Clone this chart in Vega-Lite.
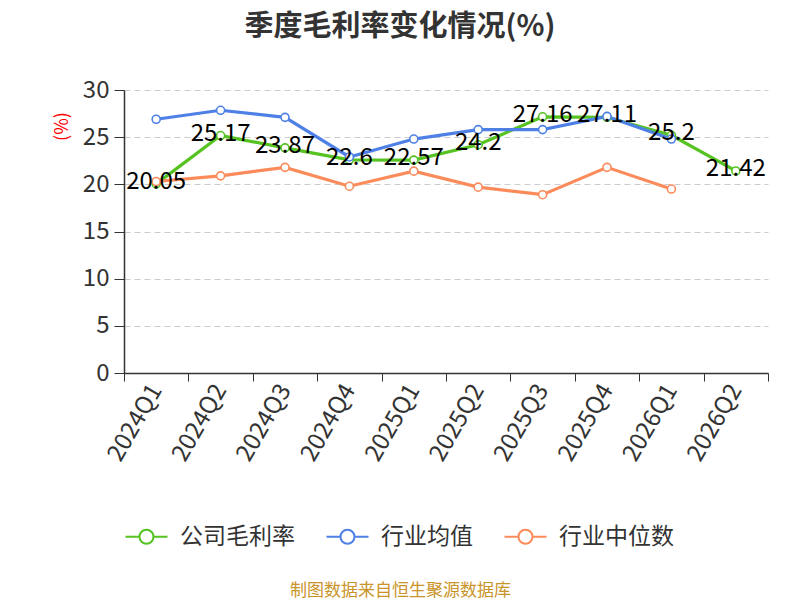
{
  "$schema": "https://vega.github.io/schema/vega-lite/v6.json",
  "autosize": "none",
  "width": 644,
  "height": 283,
  "padding": {"left": 124, "top": 90, "right": 32, "bottom": 227},
  "background": "white",
  "title": {
    "text": "季度毛利率变化情况(%)",
    "font": "Noto Sans CJK SC",
    "fontSize": 29,
    "fontWeight": "bold",
    "color": "#333333",
    "anchor": "middle",
    "dx": -46,
    "offset": 36
  },
  "config": {
    "view": {"stroke": null},
    "font": "Noto Sans CJK SC"
  },
  "data": {
    "values": [
      {"quarter": "2024Q1", "series": "公司毛利率", "value": 20.05},
      {"quarter": "2024Q2", "series": "公司毛利率", "value": 25.17},
      {"quarter": "2024Q3", "series": "公司毛利率", "value": 23.87},
      {"quarter": "2024Q4", "series": "公司毛利率", "value": 22.6},
      {"quarter": "2025Q1", "series": "公司毛利率", "value": 22.57},
      {"quarter": "2025Q2", "series": "公司毛利率", "value": 24.2},
      {"quarter": "2025Q3", "series": "公司毛利率", "value": 27.16},
      {"quarter": "2025Q4", "series": "公司毛利率", "value": 27.11},
      {"quarter": "2026Q1", "series": "公司毛利率", "value": 25.2},
      {"quarter": "2026Q2", "series": "公司毛利率", "value": 21.42},
      {"quarter": "2024Q1", "series": "行业均值", "value": 26.9},
      {"quarter": "2024Q2", "series": "行业均值", "value": 27.85},
      {"quarter": "2024Q3", "series": "行业均值", "value": 27.1},
      {"quarter": "2024Q4", "series": "行业均值", "value": 22.9},
      {"quarter": "2025Q1", "series": "行业均值", "value": 24.8},
      {"quarter": "2025Q2", "series": "行业均值", "value": 25.8},
      {"quarter": "2025Q3", "series": "行业均值", "value": 25.8},
      {"quarter": "2025Q4", "series": "行业均值", "value": 27.2},
      {"quarter": "2026Q1", "series": "行业均值", "value": 24.8},
      {"quarter": "2024Q1", "series": "行业中位数", "value": 20.3},
      {"quarter": "2024Q2", "series": "行业中位数", "value": 20.9},
      {"quarter": "2024Q3", "series": "行业中位数", "value": 21.8},
      {"quarter": "2024Q4", "series": "行业中位数", "value": 19.8},
      {"quarter": "2025Q1", "series": "行业中位数", "value": 21.4},
      {"quarter": "2025Q2", "series": "行业中位数", "value": 19.7},
      {"quarter": "2025Q3", "series": "行业中位数", "value": 18.9},
      {"quarter": "2025Q4", "series": "行业中位数", "value": 21.8},
      {"quarter": "2026Q1", "series": "行业中位数", "value": 19.5}
    ]
  },
  "encoding": {
    "x": {
      "field": "quarter",
      "type": "ordinal",
      "scale": {"type": "band", "paddingInner": 0, "paddingOuter": 0},
      "axis": {
        "title": "制图数据来自恒生聚源数据库",
        "titleFont": "Noto Sans CJK SC",
        "titleFontSize": 17,
        "titleFontWeight": "normal",
        "titleColor": "#c9942a",
        "titleX": 276,
        "titleY": 217,
        "titleAlign": "center",
        "titleBaseline": "middle",
        "tickBand": "extent",
        "tickSize": 8,
        "tickColor": "#333333",
        "domainColor": "#333333",
        "domainWidth": 1.5,
        "labelAngle": -60,
        "labelAlign": "right",
        "labelBaseline": "middle",
        "labelFontSize": 24,
        "labelColor": "#333333",
        "labelPadding": 5,
        "grid": false
      }
    },
    "y": {
      "field": "value",
      "type": "quantitative",
      "scale": {"domain": [0, 30], "nice": false},
      "axis": {
        "title": "(%)",
        "titleColor": "#ff0000",
        "titleFontSize": 18,
        "titleFontWeight": "normal",
        "titleAngle": -90,
        "titleX": -62,
        "titleY": 36,
        "titleAlign": "center",
        "titleBaseline": "middle",
        "values": [0, 5, 10, 15, 20, 25, 30],
        "tickSize": 10,
        "tickColor": "#333333",
        "domainColor": "#333333",
        "domainWidth": 1.5,
        "labelFontSize": 24,
        "labelColor": "#333333",
        "labelPadding": 5,
        "grid": true,
        "gridColor": "#cccccc",
        "gridDash": [6, 4],
        "gridWidth": 1.2
      }
    },
    "color": {
      "field": "series",
      "type": "nominal",
      "sort": ["公司毛利率", "行业均值", "行业中位数"],
      "scale": {
        "domain": ["公司毛利率", "行业均值", "行业中位数"],
        "range": ["#56c322", "#4e80e6", "#fb8b5a"]
      },
      "legend": {
        "title": null,
        "orient": "none",
        "direction": "horizontal",
        "legendX": 11,
        "legendY": 435,
        "symbolType": "M-3,0L-1,0M1,0L3,0M1,0A1,1,0,1,1,-1,0A1,1,0,1,1,1,0",
        "symbolSize": 196,
        "symbolStrokeWidth": 2,
        "symbolFillColor": "white",
        "labelOffset": 22,
        "labelFontSize": 23,
        "labelColor": "#333333",
        "labelFont": "Noto Sans CJK SC",
        "columnPadding": 27,
        "labelLimit": 200
      }
    }
  },
  "layer": [
    {
      "mark": {"type": "line", "strokeWidth": 3.2}
    },
    {
      "mark": {"type": "point", "filled": false, "fill": "white", "fillOpacity": 1, "opacity": 1, "size": 64, "strokeWidth": 1.6}
    },
    {
      "transform": [{"filter": "datum.series === '公司毛利率'"}],
      "mark": {"type": "text", "align": "center", "baseline": "middle", "dy": -2, "fontSize": 24, "color": "#000000", "font": "Noto Sans CJK SC"},
      "encoding": {
        "text": {"field": "value", "type": "quantitative"},
        "color": {"value": "#000000"}
      }
    }
  ]
}
